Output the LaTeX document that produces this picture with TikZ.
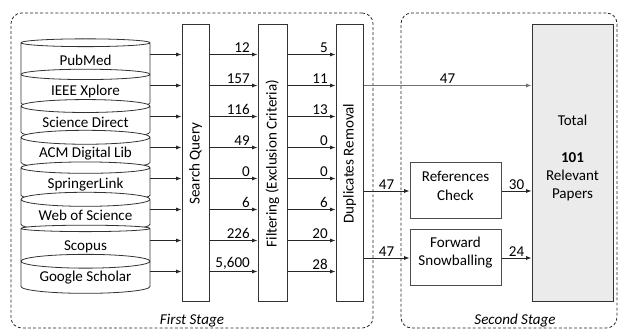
\documentclass[tikz,border=0pt]{standalone}
\usepackage{fontspec}
\setmainfont{Carlito}
\usetikzlibrary{positioning,arrows.meta,shapes.geometric,fit}

\tikzset{
  dbcyl/.style={cylinder, shape border rotate=90, draw=black!80, fill=white, line width=0.6pt, aspect=0.15, minimum width=96.75pt, minimum height=29.25pt, inner sep=0pt},
  stagebox/.style={draw=black!80, line width=0.75pt, inner sep=0pt},
  upright/.style={label={[rotate=90, inner sep=0pt]center:#1}},
  stageframe/.style={draw=black!85, dash pattern=on 2.2pt off 1.6pt, rounded corners=8pt, line width=0.6pt, inner sep=0pt},
  flow/.style={-{Latex[length=4pt,width=3pt]}, line width=0.6pt, draw=black!85},
  cnt/.style={anchor=south east, inner sep=1pt, pos=1, xshift=-4.5pt},
}

\begin{document}
\begin{tikzpicture}[x=0.75pt, y=-0.75pt, every node/.style={font=\fontsize{11.3}{13.8}\selectfont}]
  \useasboundingbox (0,0) rectangle (619,331);
  \node[stageframe, fit={(11,13) (373,328)}] (first) {};
  \node[stageframe, fit={(401,13) (617,328)}] (second) {};
  \node[anchor=center] (firstlbl) at (192,321) {\itshape First Stage};
  \node[anchor=center] (secondlbl) at (515,321) {\itshape Second Stage};

  % databases
  \foreach \name [count=\i] in {PubMed, IEEE Xplore, Science Direct, ACM Digital Lib, SpringerLink, Web of Science, Scopus, Google Scholar} {
    \node[dbcyl] (db\i) at (85.5,29.5+31*\i) {\name};
    \coordinate (r\i) at (0,23.5+31*\i);
  }

  \node[stagebox, fit={(182,25) (209,302)}, upright={Search Query}] (search) {};
  \node[stagebox, fit={(258,25) (287,302)}, upright={Filtering (Exclusion Criteria)}] (filter) {};
  \node[stagebox, fit={(336,25) (363,302)}, upright={Duplicates Removal}] (dup) {};

  \foreach \a/\b [count=\i] in {12/5, 157/11, 116/13, 49/0, 0/0, 6/6, 226/20, 5{,}600/28} {
    \draw[flow] (db\i.east |- r\i) -- (search.west |- r\i);
    \draw[flow] (search.east |- r\i) -- node[cnt] {\a} (filter.west |- r\i);
    \draw[flow] (filter.east |- r\i) -- node[cnt] {\b} (dup.west |- r\i);
  }

  % second stage
  \node[stagebox, draw=black!70, fit={(410,163) (501,219)}, align=center] (refs) {References\\Check};
  \node[stagebox, draw=black!70, fit={(410,230) (501,286)}, align=center] (fwd) {Forward\\Snowballing};
  \node[stagebox, fill=black!8, fit={(532,25) (613,302)}, align=center] (total) {Total\\[1.2em]\textbf{101}\\Relevant\\Papers};

  \draw[flow, draw=black!55] (dup.east |- r2) -- node[above, inner sep=1pt] {47} (total.west |- r2);
  \draw[flow] (dup.east |- refs.west) -- node[above, inner sep=1pt] {47} (refs.west);
  \draw[flow] (dup.east |- fwd.west) -- node[above, inner sep=1pt] {47} (fwd.west);
  \draw[flow] (refs.east) -- node[above, inner sep=1pt] {30} (total.west |- refs.east);
  \draw[flow] (fwd.east) -- node[above, inner sep=1pt] {24} (total.west |- fwd.east);
\end{tikzpicture}
\end{document}
